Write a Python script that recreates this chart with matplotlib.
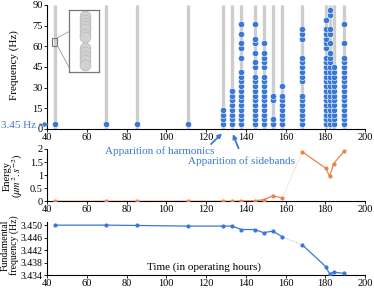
import matplotlib
matplotlib.use('Agg')
import matplotlib.pyplot as plt
from matplotlib.patches import Rectangle, ConnectionPatch

plt.rcParams['font.family'] = ['Liberation Serif', 'DejaVu Serif']
plt.rcParams['mathtext.fontset'] = 'stix'

# operating hours of each measurement
times = [44, 69.5, 85.3, 111, 128.7, 133.2, 137.8, 144.5, 149.0, 153.6, 158.4,
         168.5, 180.2, 182.2, 184.2, 189.6]
# harmonic orders detected at each measurement
harmonics = [
    [1], [1], [1], [1],
    [1, 2, 3, 4],
    [1, 2, 3, 4, 5, 6, 7, 8],
    [1, 2, 3, 4, 5, 6, 7, 8, 9, 10, 11, 12, 15, 17, 18, 20, 22],
    [1, 2, 3, 4, 5, 6, 7, 8, 9, 10, 11, 13, 14, 16, 18, 19, 22],
    [1, 2, 3, 4, 5, 6, 7, 8, 9, 10, 11, 13, 14, 15, 16, 18],
    [1, 2, 6, 7],
    [1, 2, 3, 4, 5, 6, 7, 9],
    [1, 2, 3, 4, 5, 6, 7, 10, 11, 12, 13, 14, 15, 19, 20, 21],
    [1, 2, 3, 4, 5, 6, 7, 8, 9, 10, 11, 12, 13, 14, 15, 17, 18, 19, 20, 21, 23],
    [1, 2, 3, 4, 5, 6, 7, 8, 9, 10, 11, 12, 13, 14, 15, 16, 18, 20, 21, 24, 25],
    [1, 2, 3, 4, 5, 6, 7, 8, 9, 10, 11, 12, 13],
    [1, 2, 3, 4, 5, 6, 7, 8, 9, 10, 11, 12, 13, 14, 15, 18, 22],
]
f0 = 3.45
energy = [0, 0, 0, 0, 0, 0, 0.01, 0.02, 0.06, 0.21, 0.13, 1.89, 1.27, 0.95, 1.44, 1.92]
fund = [3.4500, 3.4500, 3.4499, 3.4497, 3.4497, 3.4497, 3.4486, 3.4486, 3.4476,
        3.4481, 3.4463, 3.4437, 3.4368, 3.4345, 3.4350, 3.4346]
gap = 10  # index where the measurement gap ends (158.4 -> 168.5)
# zoomed gray points in the inset
inset_freqs = [65.7, 65.4, 65.1, 64.8, 64.5, 64.1, 63.8, 62.7, 62.4, 62.0, 61.6, 61.2]

blue = '#3a78d8'
orange = '#e8834e'
gray = '#cdcdcd'
W, H = 374, 291

fig = plt.figure(figsize=(W / 100, H / 100), dpi=100)

def box(l, t, r, b):
    return [l / W, 1 - b / H, (r - l) / W, (b - t) / H]

ax1 = fig.add_axes(box(47, 5, 365, 129))
ax2 = fig.add_axes(box(47, 149, 365, 201.3))
ax3 = fig.add_axes(box(47, 221.7, 365, 275.3))

for ax in (ax1, ax2, ax3):
    ax.spines['top'].set_visible(False)
    ax.spines['right'].set_visible(False)
    ax.spines['left'].set_linewidth(0.8)
    ax.spines['bottom'].set_linewidth(0.8)
    ax.set_xlim(40, 200)
    ax.set_xticks(range(40, 201, 20))
    ax.tick_params(labelsize=7.5, length=2, width=0.6, pad=1)

# top: spectrogram-like harmonic plot
ax1.vlines(times, 0, 90, color=gray, lw=2.4, zorder=1)
for t, hs in zip(times, harmonics):
    ax1.scatter([t] * len(hs), [h * f0 for h in hs], s=20, color=blue,
                edgecolor='white', linewidth=0.4, zorder=3)
ax1.set_ylim(0, 90)
ax1.set_yticks(range(0, 91, 15))

# zoom rectangle + inset
rx0, rx1, ry0, ry1 = 42.7, 45.2, 60.5, 66.3
ax1.add_patch(Rectangle((rx0, ry0), rx1 - rx0, ry1 - ry0, fill=False,
                        edgecolor='#777777', lw=0.8, zorder=4))
axi = fig.add_axes(box(69, 10, 99, 72))
axi.scatter([44] * len(inset_freqs), inset_freqs, s=60, color='#d2d2d2',
            edgecolor='#bdbdbd', linewidth=0.6)
axi.set_xlim(rx0, rx1)
axi.set_ylim(ry0, ry1)
axi.set_xticks([])
axi.set_yticks([])
for s in axi.spines.values():
    s.set_edgecolor('#777777')
    s.set_linewidth(0.9)
for (yd, ya) in ((ry1, 0.65), (ry0, 0.08)):
    con = ConnectionPatch(xyA=(rx1, yd), coordsA=ax1.transData,
                          xyB=(0, ya), coordsB=axi.transAxes,
                          color='#888888', lw=0.5)
    fig.add_artist(con)

# energy
ax2.plot(times[:gap + 1], energy[:gap + 1], color=orange, lw=0.9,
         marker='o', ms=2, zorder=3)
ax2.plot(times[gap:gap + 2], energy[gap:gap + 2], color=orange, lw=0.5,
         ls=':', alpha=0.8)
ax2.plot(times[gap + 1:], energy[gap + 1:], color=orange, lw=0.9,
         marker='o', ms=2, zorder=3)
ax2.set_ylim(0, 2)
ax2.set_yticks([0, 0.5, 1, 1.5, 2])
ax2.set_yticklabels(['0', '0.5', '1', '1.5', '2'])

# fundamental frequency
ax3.plot(times[:gap + 1], fund[:gap + 1], color=blue, lw=0.9,
         marker='o', ms=2, zorder=3)
ax3.plot(times[gap:gap + 2], fund[gap:gap + 2], color=blue, lw=0.5,
         ls=':', alpha=0.8)
ax3.plot(times[gap + 1:], fund[gap + 1:], color=blue, lw=0.9,
         marker='o', ms=2, zorder=3)
ax3.set_ylim(3.434, 3.4511)
ax3.set_yticks([3.434, 3.438, 3.442, 3.446, 3.450])
ax3.set_yticklabels(['3.434', '3.438', '3.442', '3.446', '3.450'])
ax3.tick_params(axis='y', labelsize=7)

# labels
fig.text(14 / W, 1 - 65 / H, 'Frequency (Hz)', rotation=90, ha='center',
         va='center', fontsize=8)
fig.text(14 / W, 1 - 176 / H, 'Energy\n($\\mu m^2.s^{-2}$)', rotation=90,
         ha='center', va='center', fontsize=7.5, linespacing=0.95)
fig.text(10 / W, 1 - 245 / H, 'Fundamental\nfrequency (Hz)', rotation=90,
         ha='center', va='center', fontsize=7, linespacing=0.95)
fig.text(204 / W, 1 - 267 / H, 'Time (in operating hours)', ha='center',
         va='center', fontsize=8)

# annotations
fig.text(1 / W, 1 - 125 / H, '3.45 Hz', color=blue, ha='left', va='center',
         fontsize=8)
ax1.annotate('', xy=(52, H - 124.5), xycoords='figure pixels',
             xytext=(37, H - 124.5), textcoords='figure pixels',
             arrowprops=dict(arrowstyle='-|>', color=blue, lw=1.2,
                             mutation_scale=6))
fig.text(160 / W, 1 - 151 / H, 'Apparition of harmonics', color=blue,
         ha='center', va='center', fontsize=8)
ax1.annotate('', xy=(224, H - 131.5), xycoords='figure pixels',
             xytext=(209, H - 146), textcoords='figure pixels',
             arrowprops=dict(arrowstyle='-|>', color=blue, lw=1.3,
                             mutation_scale=6))
fig.text(241.5 / W, 1 - 161 / H, 'Apparition of sidebands', color=blue,
         ha='center', va='center', fontsize=8)
ax1.annotate('', xy=(232, H - 131.5), xycoords='figure pixels',
             xytext=(241, H - 155), textcoords='figure pixels',
             arrowprops=dict(arrowstyle='-|>', color=blue, lw=1.3,
                             mutation_scale=6))

fig.savefig('out.png', dpi=100)
